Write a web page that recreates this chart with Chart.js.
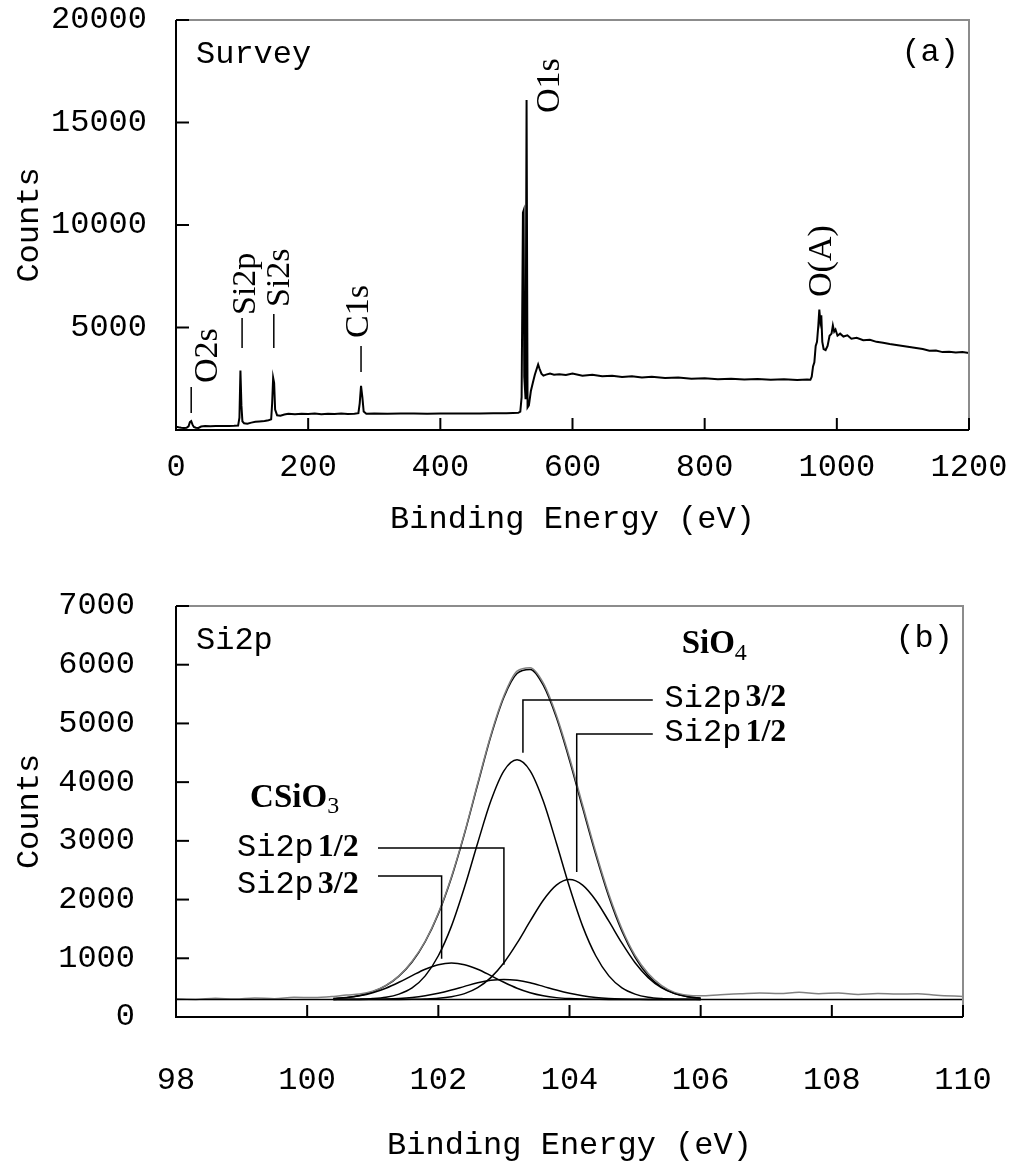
<!DOCTYPE html>
<html>
<head>
<meta charset="utf-8">
<script src="https://cdn.jsdelivr.net/npm/chart.js@4.4.1/dist/chart.umd.min.js"></script>
<style>
  html, body { margin: 0; padding: 0; background: #fff; }
  #wrap { position: relative; width: 1012px; height: 1165px; }
  #surveyChart { position: absolute; left: 0; top: 0; }
  #si2pChart { position: absolute; left: 0; top: 560px; }
</style>
</head>
<body>
<div id="wrap">
  <canvas id="surveyChart" width="1012" height="550"></canvas>
  <canvas id="si2pChart" width="1012" height="605"></canvas>
</div>
<script>
// ---- (a) survey spectrum ----
const surveyEnergy = [0, 4, 8, 12, 16, 19, 21, 23, 25, 27, 30, 34, 38, 44, 52, 60, 70, 80, 88, 94,
  96, 97.5, 99, 100.5, 103, 108, 114, 120, 126, 134, 140, 144, 145.5, 147, 148.5, 150, 153, 158, 164, 170,
  180, 190, 200, 210, 220, 230, 240, 250, 260, 270, 276, 278, 280, 282, 284, 288, 300, 320, 340, 360,
  380, 400, 420, 440, 460, 480, 500, 510, 518, 521, 523, 525, 526, 527, 529, 530.5, 532, 534, 537, 540,
  543, 546, 548, 550, 553, 556, 560, 566, 572, 580, 590, 600, 615, 630, 645, 660, 675, 690, 705, 720,
  740, 760, 780, 800, 820, 840, 860, 880, 900, 920, 940, 955, 960, 962, 964, 966, 968, 970, 972, 973.5,
  975, 976.5, 978, 980, 983, 986, 989, 992, 994, 996, 998, 1001, 1005, 1010, 1016, 1022, 1030, 1040, 1050, 1060,
  1070, 1080, 1090, 1100, 1110, 1120, 1130, 1140, 1150, 1160, 1170, 1180, 1190, 1200];
const surveyCounts = [160, 130, 110, 100, 110, 180, 380, 430, 260, 150, 110, 100, 170, 190, 185, 195, 190, 200, 205, 215,
  600, 2900, 1200, 420, 330, 310, 360, 400, 420, 440, 480, 520, 1300, 2550, 2300, 1000, 720, 700, 760, 790,
  770, 790, 780, 800, 770, 790, 780, 800, 780, 790, 820, 1300, 2150, 1600, 900, 790, 800, 790, 810, 800,
  790, 810, 800, 810, 800, 820, 820, 830, 840, 900, 1600, 10600, 10700, 2600, 1500, 16100, 1100, 1200, 1900, 2300,
  2700, 3000, 3200, 3000, 2750, 2650, 2700, 2750, 2700, 2720, 2680, 2750, 2650, 2700, 2620, 2650, 2580, 2620, 2560, 2600,
  2540, 2560, 2500, 2530, 2480, 2500, 2460, 2490, 2450, 2480, 2440, 2460, 2450, 2600, 3100, 3300, 4100, 4300, 5100, 5880,
  5300, 5600, 4300, 3950, 3900, 4100, 4600, 4700, 5100, 4800, 4900, 4600, 4700, 4560, 4620, 4450, 4500, 4380, 4400, 4300,
  4260, 4200, 4150, 4100, 4050, 4000, 3950, 3870, 3880, 3800, 3820, 3780, 3800, 3760];

// ---- (b) Si2p region ----
const si2pEnergy = [100.4, 100.6, 100.8, 101.0, 101.2, 101.4, 101.6, 101.8, 102.0, 102.2,
  102.4, 102.6, 102.8, 103.0, 103.2, 103.4, 103.6, 103.8, 104.0, 104.2,
  104.4, 104.6, 104.8, 105.0, 105.2, 105.4, 105.6, 105.8, 106.0];
const sio4Si2p32 = [300, 301, 304, 313, 336, 390, 496, 700, 1043, 1548,
  2214, 2964, 3678, 4192, 4380, 4192, 3678, 2964, 2214, 1548,
  1043, 700, 496, 390, 336, 313, 304, 301, 300];
const sio4Si2p12 = [300, 300, 300, 300, 300, 300, 302, 307, 318, 345,
  398, 500, 671, 924, 1257, 1632, 1989, 2246, 2340, 2246,
  1989, 1632, 1257, 924, 671, 500, 398, 345, 318];
const csio3Si2p32 = [314, 330, 361, 413, 490, 591, 705, 813, 891, 920,
  891, 813, 705, 591, 490, 413, 361, 330, 314, 305,
  302, 300, 300, 300, 300, 300, 300, 300, 300];
const csio3Si2p12 = [300, 300, 300, 303, 307, 316, 333, 362, 404, 459,
  522, 582, 624, 640, 624, 582, 522, 459, 404, 362,
  333, 316, 307, 303, 300, 300, 300, 300, 300];
const si2pEnvelope = [314, 331, 365, 429, 533, 697, 936, 1282, 1756, 2372,
  3125, 3959, 4778, 5447, 5851, 5919, 5650, 5099, 4372, 3561,
  2767, 2048, 1460, 1017, 707, 513, 402, 346, 318];
const measuredEnergy = [98.0, 98.3, 98.6, 98.9, 99.2, 99.5, 99.8, 100.1,
  100.4, 100.6, 100.8, 101.0, 101.2, 101.4, 101.6, 101.8, 102.0, 102.2,
  102.4, 102.6, 102.8, 103.0, 103.2, 103.4, 103.6, 103.8, 104.0, 104.2,
  104.4, 104.6, 104.8, 105.0, 105.2, 105.4, 105.6, 105.8, 106.0,
  106.3, 106.6, 106.9, 107.2, 107.5, 107.8, 108.1, 108.4, 108.7, 109.0, 109.3, 109.6, 110.0];
const measuredCounts = [310, 300, 320, 305, 325, 310, 335, 330,
  350, 375, 390, 440, 540, 700, 950, 1290, 1770, 2390,
  3140, 3980, 4800, 5470, 5890, 5950, 5690, 5140, 4420, 3610,
  2810, 2090, 1500, 1050, 740, 540, 420, 370, 360,
  380, 395, 410, 400, 420, 395, 410, 385, 400, 390, 395, 370, 350];
const baselineEnergy = [98, 110];
const baselineCounts = [300, 300];

const MONO = '"Liberation Mono", "DejaVu Sans Mono", monospace';
const SERIF = '"Liberation Serif", "DejaVu Serif", serif';

Chart.defaults.font.family = MONO;
Chart.defaults.font.size = 32;
Chart.defaults.color = '#000';

function toPoints(xs, ys) {
  return xs.map((x, i) => ({ x: x, y: ys[i] }));
}

// frame, inward ticks and annotations
const framePlugin = {
  id: 'frame',
  afterDatasetsDraw(chart, args, opts) {
    const ctx = chart.ctx;
    const a = chart.chartArea;
    const sx = chart.scales.x, sy = chart.scales.y;
    const px = v => sx.getPixelForValue(v);
    const py = v => sy.getPixelForValue(v);
    ctx.save();
    ctx.lineWidth = 2;
    ctx.strokeStyle = '#8c8c8c';
    ctx.beginPath();
    ctx.moveTo(a.left, a.top); ctx.lineTo(a.right, a.top); ctx.lineTo(a.right, a.bottom);
    ctx.stroke();
    ctx.strokeStyle = '#000';
    ctx.beginPath();
    ctx.moveTo(a.left, a.top); ctx.lineTo(a.left, a.bottom); ctx.lineTo(a.right, a.bottom);
    ctx.stroke();
    sx.ticks.forEach(t => {
      const x = px(t.value);
      ctx.beginPath(); ctx.moveTo(x, a.bottom); ctx.lineTo(x, a.bottom - 12); ctx.stroke();
    });
    sy.ticks.forEach(t => {
      const y = py(t.value);
      ctx.beginPath(); ctx.moveTo(a.left, y); ctx.lineTo(a.left + 13, y); ctx.stroke();
    });

    // leader lines
    ctx.lineWidth = 1.5;
    (opts.leaders || []).forEach(pts => {
      ctx.beginPath();
      pts.forEach((p, i) => i ? ctx.lineTo(px(p[0]), py(p[1])) : ctx.moveTo(px(p[0]), py(p[1])));
      ctx.stroke();
    });

    // labels in data coordinates
    ctx.fillStyle = '#000';
    (opts.labels || []).forEach(l => {
      ctx.save();
      ctx.translate(px(l.x), py(l.y));
      if (l.rotate) ctx.rotate(-Math.PI / 2);
      ctx.textBaseline = 'middle';
      ctx.textAlign = 'left';
      let cx = 0;
      l.parts.forEach(p => {
        ctx.font = p.font;
        ctx.fillText(p.text, cx, p.dy || 0);
        cx += ctx.measureText(p.text).width + (p.gap || 0);
      });
      ctx.restore();
    });

    // corner captions
    ctx.font = '32px ' + MONO;
    ctx.textBaseline = 'middle';
    ctx.textAlign = 'left';
    ctx.fillText(opts.name, a.left + 20, a.top + 35);
    ctx.textAlign = 'right';
    ctx.fillText(opts.tag, a.right - 10, a.top + 33);
    ctx.restore();
  }
};

function axisX(min, max, step, height, tickPad, titlePad) {
  return {
    type: 'linear', min: min, max: max,
    grid: { display: false }, border: { display: false },
    ticks: { stepSize: step, autoSkip: false, maxRotation: 0, padding: tickPad, callback: v => String(v) },
    title: { display: true, text: 'Binding Energy (eV)', padding: { top: 0, bottom: titlePad } },
    afterFit: s => { s.height = height; s.paddingLeft = 0; s.paddingRight = 0; }
  };
}

function axisY(max, step, tickPad, hideZero) {
  return {
    type: 'linear', min: 0, max: max,
    grid: { display: false }, border: { display: false },
    ticks: {
      stepSize: step, padding: tickPad,
      callback: v => (hideZero && v === 0) ? '' : String(v)
    },
    title: { display: true, text: 'Counts', padding: { top: 10.8, bottom: 0 } },
    afterFit: s => { s.width = 176; s.paddingTop = 0; s.paddingBottom = 0; }
  };
}

const serifLabel = '34px ' + SERIF;
const surveyNotes = {
  name: 'Survey',
  tag: '(a)',
  leaders: [
    [[23, 830], [23, 2100]],
    [[100, 4000], [100, 5460]],
    [[148, 4000], [148, 5660]],
    [[280, 2830], [280, 4100]]
  ],
  labels: [
    { x: 48, y: 2290, rotate: true, parts: [{ text: 'O2s', font: serifLabel }] },
    { x: 106, y: 5610, rotate: true, parts: [{ text: 'Si2p', font: serifLabel }] },
    { x: 157, y: 6000, rotate: true, parts: [{ text: 'Si2s', font: serifLabel }] },
    { x: 277, y: 4490, rotate: true, parts: [{ text: 'C1s', font: serifLabel }] },
    { x: 566, y: 15460, rotate: true, parts: [{ text: 'O1s', font: serifLabel }] },
    { x: 978, y: 6490, rotate: true, parts: [{ text: 'O(A)', font: serifLabel }] }
  ]
};

const monoLabel = '32px ' + MONO;
const boldSerif = 'bold 32px ' + SERIF;
const si2pNotes = {
  name: 'Si2p',
  tag: '(b)',
  leaders: [
    [[105.27, 5400], [103.29, 5400], [103.29, 4500]],
    [[105.27, 4820], [104.11, 4820], [104.11, 2470]],
    [[101.08, 2880], [103.0, 2880], [103.0, 890]],
    [[101.08, 2400], [102.05, 2400], [102.05, 990]]
  ],
  labels: [
    { x: 105.71, y: 6340, parts: [{ text: 'SiO', font: 'bold 33px ' + SERIF }, { text: '4', font: '24px ' + SERIF, dy: 9 }] },
    { x: 105.45, y: 5430, parts: [{ text: 'Si2p', font: monoLabel, gap: 4 }, { text: '3/2', font: boldSerif }] },
    { x: 105.45, y: 4840, parts: [{ text: 'Si2p', font: monoLabel, gap: 4 }, { text: '1/2', font: boldSerif }] },
    { x: 99.13, y: 3730, parts: [{ text: 'CSiO', font: 'bold 33px ' + SERIF }, { text: '3', font: '24px ' + SERIF, dy: 9 }] },
    { x: 98.93, y: 2880, parts: [{ text: 'Si2p', font: monoLabel, gap: 4 }, { text: '1/2', font: boldSerif }] },
    { x: 98.93, y: 2250, parts: [{ text: 'Si2p', font: monoLabel, gap: 4 }, { text: '3/2', font: boldSerif }] }
  ]
};

function lineSet(points, color, width, smooth) {
  return {
    data: points, borderColor: color, borderWidth: width, showLine: true,
    pointRadius: 0, fill: false,
    cubicInterpolationMode: smooth ? 'monotone' : 'default', tension: 0
  };
}

new Chart(document.getElementById('surveyChart'), {
  type: 'scatter',
  data: {
    datasets: [lineSet(toPoints(surveyEnergy, surveyCounts), '#000', 2, false)]
  },
  options: {
    responsive: false, animation: false,
    layout: { padding: { left: 0, top: 20, right: 43, bottom: 0 } },
    plugins: { legend: { display: false }, tooltip: { enabled: false }, frame: surveyNotes },
    scales: {
      x: axisX(0, 1200, 200, 120, 10, 10.8),
      y: axisY(20000, 5000, 21, true)
    }
  },
  plugins: [framePlugin]
});

new Chart(document.getElementById('si2pChart'), {
  type: 'scatter',
  data: {
    datasets: [
      lineSet(toPoints(baselineEnergy, baselineCounts), '#000', 1.5, false),
      lineSet(toPoints(si2pEnergy, csio3Si2p32), '#000', 1.5, true),
      lineSet(toPoints(si2pEnergy, csio3Si2p12), '#000', 1.5, true),
      lineSet(toPoints(si2pEnergy, sio4Si2p32), '#000', 1.5, true),
      lineSet(toPoints(si2pEnergy, sio4Si2p12), '#000', 1.5, true),
      lineSet(toPoints(measuredEnergy, measuredCounts), '#808080', 1.5, true),
      lineSet(toPoints(si2pEnergy, si2pEnvelope), '#000', 1.5, true)
    ]
  },
  options: {
    responsive: false, animation: false,
    layout: { padding: { left: 0, top: 46, right: 49, bottom: 0 } },
    plugins: { legend: { display: false }, tooltip: { enabled: false }, frame: si2pNotes },
    scales: {
      x: axisX(98, 110, 2, 148, 36, 0),
      y: axisY(7000, 1000, 33, false)
    }
  },
  plugins: [framePlugin]
});
</script>
</body>
</html>
